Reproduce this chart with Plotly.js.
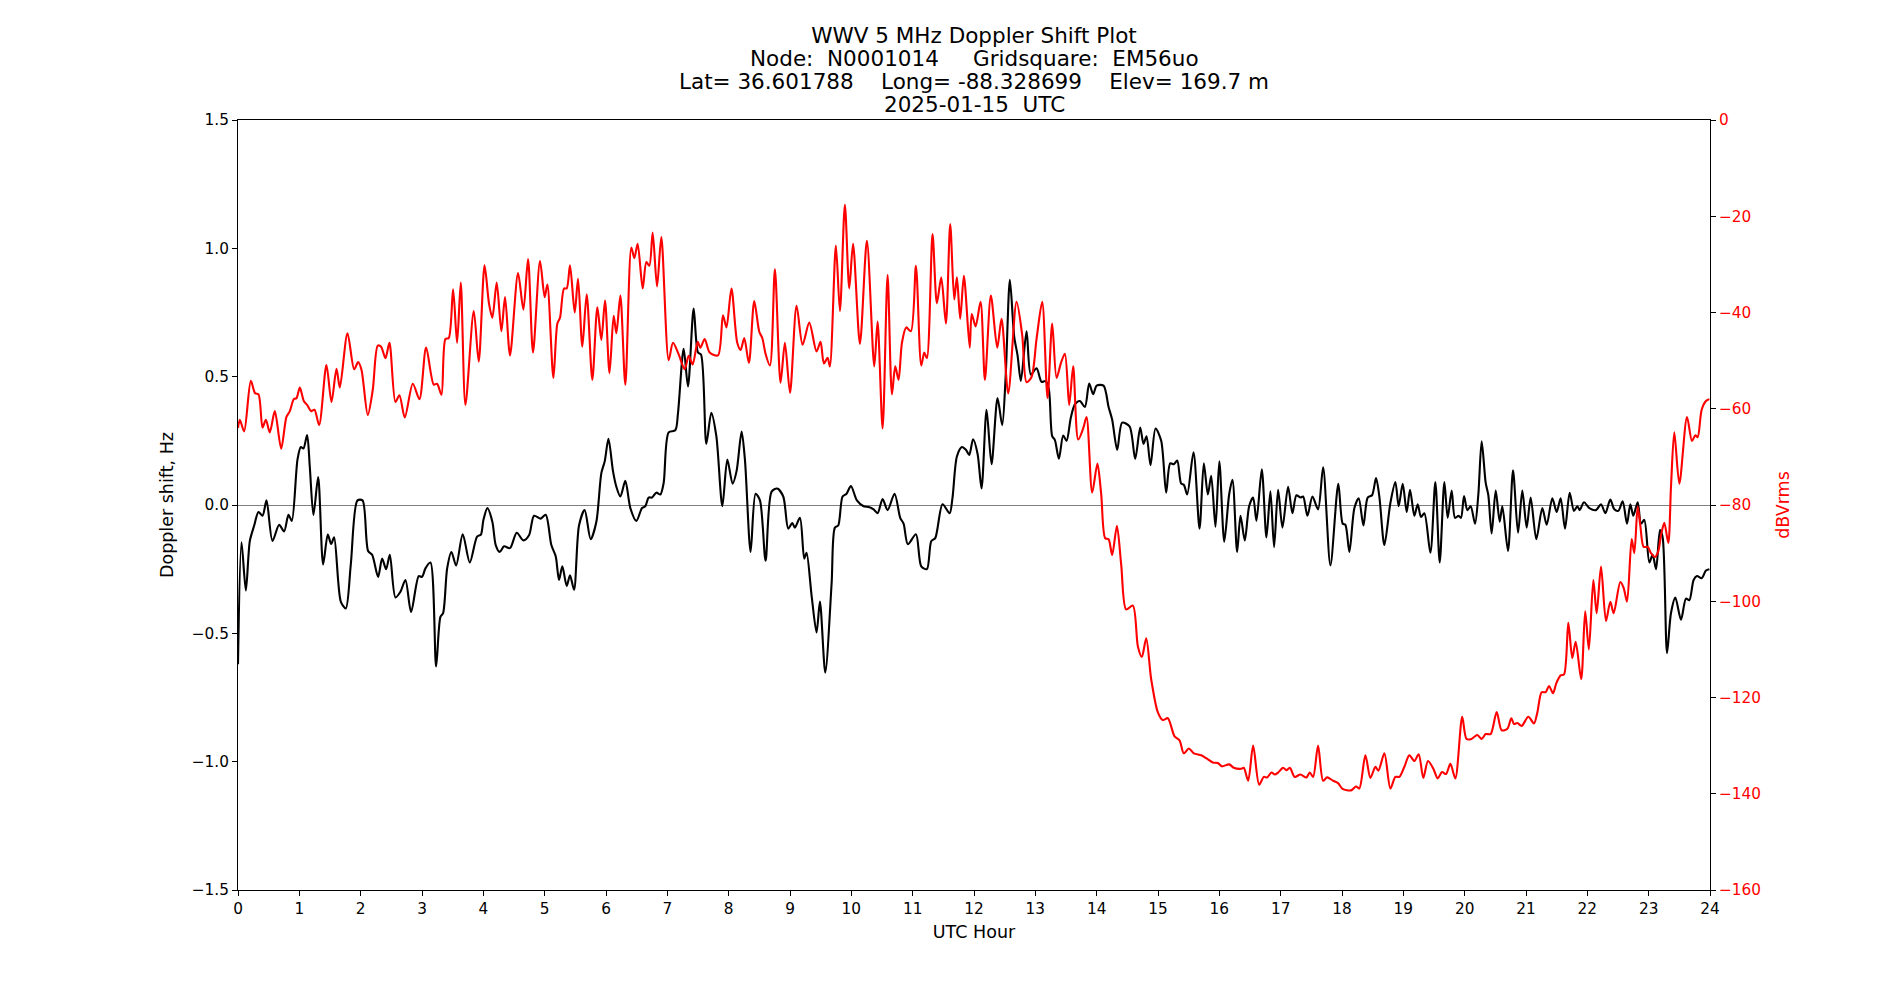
<!DOCTYPE html>
<html><head><meta charset="utf-8">
<script src="https://cdn.plot.ly/plotly-3.0.1.min.js"></script>
<style>html,body{margin:0;padding:0;background:#fff}#chart{width:1900px;height:1000px}</style>
</head><body><div id="chart"></div>
<script>
// Doppler shift (Hz) vs UTC hour — black trace
const dopplerHours = [0.0,0.057,0.128,0.193,0.264,0.334,0.40,0.465,0.562,0.671,0.752,0.823,0.877,0.97,1.024,1.067,1.127,1.171,1.23,1.307,1.388,1.464,1.519,1.567,1.676,1.757,1.839,1.948,2.03,2.121,2.187,2.284,2.35,2.415,2.475,2.567,2.648,2.73,2.822,2.947,3.0,3.056,3.137,3.23,3.3,3.344,3.41,3.48,3.556,3.664,3.779,3.898,3.96,4.0,4.066,4.147,4.202,4.267,4.338,4.435,4.544,4.653,4.745,4.827,4.935,5.017,5.109,5.18,5.234,5.288,5.359,5.413,5.479,5.56,5.652,5.75,5.843,5.924,5.979,6.04,6.114,6.169,6.234,6.315,6.397,6.495,6.587,6.641,6.696,6.75,6.821,6.886,6.94,7.022,7.13,7.174,7.266,7.337,7.429,7.5,7.549,7.636,7.717,7.799,7.897,7.978,8.064,8.129,8.211,8.265,8.358,8.439,8.51,8.602,8.7,8.792,8.89,8.971,9.037,9.08,9.162,9.232,9.27,9.352,9.433,9.488,9.575,9.678,9.732,9.786,9.857,9.922,9.993,10.091,10.2,10.281,10.363,10.428,10.51,10.591,10.705,10.797,10.852,10.922,11.053,11.14,11.232,11.303,11.368,11.487,11.602,11.65,11.721,11.803,11.868,11.922,11.985,12.058,12.123,12.205,12.286,12.384,12.46,12.515,12.585,12.656,12.71,12.764,12.857,12.927,13.02,13.101,13.166,13.221,13.275,13.319,13.384,13.454,13.509,13.579,13.645,13.726,13.808,13.878,13.943,14.0,14.112,14.194,14.253,14.335,14.416,14.536,14.628,14.71,14.764,14.813,14.878,14.96,15.052,15.133,15.199,15.258,15.313,15.378,15.421,15.476,15.579,15.677,15.747,15.813,15.867,15.937,16.0,16.08,16.16,16.214,16.29,16.345,16.415,16.486,16.551,16.605,16.692,16.768,16.833,16.893,16.958,17.029,17.121,17.192,17.257,17.322,17.366,17.436,17.518,17.61,17.692,17.811,17.94,18.012,18.055,18.12,18.202,18.272,18.349,18.419,18.49,18.555,18.609,18.691,18.789,18.87,18.924,18.99,19.055,19.109,19.18,19.234,19.288,19.343,19.441,19.522,19.593,19.669,19.723,19.788,19.843,19.902,19.94,19.99,20.044,20.098,20.169,20.223,20.277,20.343,20.386,20.44,20.506,20.571,20.614,20.707,20.788,20.87,20.94,21.011,21.076,21.168,21.266,21.337,21.429,21.5,21.565,21.636,21.712,21.782,21.837,21.875,21.945,22.033,22.141,22.223,22.294,22.375,22.44,22.505,22.576,22.647,22.701,22.75,22.821,22.875,22.929,23.011,23.065,23.12,23.185,23.228,23.299,23.364,23.435,23.527,23.608,23.663,23.733,23.788,23.864,23.934,23.99];
const dopplerHz = [-0.62,-0.145,-0.333,-0.14,-0.08,-0.027,-0.042,0.018,-0.14,-0.077,-0.103,-0.038,-0.062,0.177,0.226,0.22,0.273,0.147,-0.039,0.109,-0.232,-0.115,-0.152,-0.126,-0.376,-0.403,-0.232,0.018,0.018,-0.179,-0.194,-0.28,-0.209,-0.25,-0.194,-0.36,-0.338,-0.292,-0.417,-0.277,-0.28,-0.247,-0.224,-0.629,-0.436,-0.421,-0.247,-0.183,-0.236,-0.114,-0.224,-0.123,-0.115,-0.06,-0.012,-0.065,-0.156,-0.183,-0.161,-0.168,-0.108,-0.138,-0.118,-0.042,-0.053,-0.038,-0.156,-0.2,-0.292,-0.239,-0.315,-0.274,-0.33,-0.08,-0.02,-0.133,-0.065,0.124,0.17,0.258,0.132,0.071,0.033,0.094,-0.012,-0.062,-0.012,-0.005,0.029,0.029,0.048,0.041,0.086,0.283,0.291,0.359,0.609,0.462,0.765,0.594,0.586,0.238,0.359,0.268,-0.005,0.177,0.083,0.132,0.286,0.177,-0.183,0.044,0.018,-0.217,0.052,0.064,0.033,-0.092,-0.07,-0.088,-0.05,-0.209,-0.186,-0.353,-0.497,-0.376,-0.653,-0.308,-0.088,-0.08,0.033,0.044,0.074,0.018,-0.005,-0.008,-0.017,-0.032,0.023,-0.02,0.044,-0.05,-0.073,-0.153,-0.114,-0.239,-0.25,-0.141,-0.129,0.003,-0.032,0.029,0.189,0.226,0.215,0.195,0.256,0.2,0.064,0.371,0.159,0.417,0.311,0.495,0.877,0.655,0.583,0.483,0.677,0.508,0.533,0.48,0.483,0.45,0.268,0.253,0.18,0.271,0.25,0.341,0.392,0.405,0.382,0.473,0.432,0.465,0.465,0.382,0.332,0.215,0.321,0.306,0.18,0.302,0.238,0.268,0.155,0.298,0.25,0.048,0.162,0.159,0.173,0.083,0.079,0.041,0.205,-0.092,0.162,0.041,0.114,-0.085,0.17,-0.143,0.041,0.098,-0.183,-0.042,-0.138,-0.005,0.029,-0.062,0.139,-0.126,0.053,-0.164,0.059,-0.088,0.071,-0.032,0.038,0.029,0.033,-0.042,0.033,-0.017,0.147,-0.235,0.083,-0.073,-0.077,-0.183,-0.012,0.026,-0.08,0.029,0.038,0.105,0.033,-0.156,0.008,0.089,-0.005,0.083,-0.027,0.059,-0.042,0.003,-0.047,-0.032,-0.186,0.089,-0.224,0.089,-0.05,0.056,-0.05,-0.042,-0.05,0.035,-0.02,-0.005,-0.073,0.041,0.248,0.086,0.038,-0.111,0.056,-0.065,-0.005,-0.179,0.135,-0.108,0.056,-0.088,0.029,-0.133,-0.012,-0.077,0.026,-0.027,0.026,-0.092,0.048,-0.023,-0.005,-0.02,0.011,-0.012,-0.02,0.003,-0.032,0.021,-0.017,-0.023,0.014,-0.073,0.003,-0.042,0.011,-0.073,-0.058,-0.224,-0.194,-0.25,-0.098,-0.126,-0.577,-0.421,-0.361,-0.447,-0.365,-0.371,-0.292,-0.277,-0.285,-0.255,-0.25];

// Received level (dBVrms) vs UTC hour — red trace
const powerHours = [0.0,0.03,0.1,0.209,0.28,0.334,0.40,0.454,0.519,0.6,0.704,0.79,0.845,0.91,0.954,1.008,1.073,1.127,1.193,1.247,1.323,1.442,1.524,1.606,1.66,1.785,1.894,1.959,2.013,2.116,2.198,2.279,2.333,2.404,2.469,2.567,2.632,2.719,2.85,2.958,3.067,3.192,3.246,3.317,3.382,3.436,3.507,3.572,3.632,3.708,3.844,3.925,4.02,4.093,4.147,4.218,4.294,4.354,4.435,4.566,4.653,4.729,4.81,4.924,5.0,5.044,5.142,5.207,5.25,5.316,5.359,5.413,5.49,5.544,5.614,5.685,5.777,5.859,5.924,5.984,6.057,6.125,6.169,6.234,6.315,6.413,6.462,6.516,6.598,6.658,6.707,6.761,6.832,6.902,7.022,7.092,7.185,7.283,7.348,7.413,7.495,7.538,7.609,7.69,7.826,7.907,7.964,8.045,8.14,8.195,8.254,8.33,8.417,8.499,8.548,8.602,8.673,8.754,8.846,8.917,9.0,9.107,9.205,9.314,9.433,9.498,9.553,9.613,9.65,9.748,9.814,9.895,9.966,10.028,10.14,10.254,10.374,10.428,10.51,10.591,10.662,10.716,10.77,10.825,10.895,10.971,11.053,11.14,11.189,11.232,11.324,11.395,11.466,11.542,11.612,11.678,11.721,11.775,11.835,11.93,11.963,12.026,12.107,12.178,12.275,12.379,12.449,12.558,12.694,12.786,12.857,12.938,13.02,13.112,13.199,13.275,13.346,13.417,13.482,13.552,13.617,13.699,13.78,13.835,13.927,14.012,14.074,14.139,14.194,14.253,14.33,14.4,14.481,14.59,14.672,14.737,14.808,14.889,14.998,15.079,15.161,15.27,15.351,15.421,15.503,15.584,15.704,15.785,15.894,15.975,16.041,16.16,16.236,16.361,16.399,16.47,16.551,16.649,16.725,16.779,16.85,16.904,16.958,17.04,17.094,17.149,17.23,17.322,17.42,17.475,17.529,17.61,17.692,17.757,17.855,17.936,18.01,18.148,18.229,18.283,18.381,18.463,18.544,18.593,18.691,18.789,18.87,18.935,19.017,19.098,19.18,19.25,19.326,19.402,19.489,19.56,19.631,19.696,19.767,19.848,19.96,20.03,20.109,20.207,20.277,20.343,20.424,20.522,20.603,20.696,20.761,20.804,20.859,20.929,21.038,21.13,21.185,21.255,21.32,21.375,21.44,21.495,21.565,21.62,21.69,21.755,21.81,21.9,21.965,22.025,22.098,22.152,22.223,22.304,22.375,22.429,22.538,22.592,22.647,22.723,22.766,22.821,22.864,22.918,22.984,23.038,23.103,23.157,23.201,23.255,23.32,23.364,23.418,23.5,23.625,23.706,23.761,23.799,23.864,23.934,23.99];
const powerDb = [-64,-62.3,-64.7,-54.2,-56.8,-57,-63.9,-62.3,-64.9,-60.5,-68.3,-61.7,-60.5,-58,-57.8,-55.6,-58.4,-59.2,-60.5,-60.2,-63.4,-50.9,-58.6,-51.7,-55.6,-44.3,-51.8,-50.3,-51.9,-61.3,-56,-46.9,-47.1,-49.5,-46.3,-58.6,-57.2,-61.8,-54.8,-58,-47.3,-55,-54.8,-57.1,-45.5,-45.3,-35.2,-46.3,-33.8,-59.2,-39.7,-50.2,-30.2,-38.2,-41.1,-33.8,-43.9,-36.8,-48.9,-31.8,-39.4,-28.9,-48.3,-29.3,-36.8,-34.2,-53.6,-42.3,-41.1,-35,-35,-30.2,-40,-33,-47.1,-36.2,-54,-38.9,-45.7,-37.5,-52.6,-40.7,-44.3,-36.5,-55,-26.5,-28.7,-25.7,-35,-29.5,-30.3,-23.4,-34.6,-24.3,-49.9,-46.3,-48.7,-51.8,-49,-50.8,-46.1,-47.3,-45.5,-48.3,-48.9,-40.6,-43.1,-35,-46.3,-47.8,-45.3,-50.5,-37.6,-44,-45.3,-48.6,-51,-31,-54.6,-46.3,-56.7,-38.6,-46.7,-42.1,-48.1,-46.1,-50.6,-49.4,-51.2,-26.1,-39.7,-17.6,-35,-25.7,-46.5,-25.1,-51.2,-41.9,-64.1,-32.2,-57,-51.2,-54,-46.3,-43.1,-43.9,-30.3,-51,-48.3,-49.5,-23.7,-38.1,-32.7,-42.3,-21.6,-37.3,-32.7,-41.3,-32.4,-47.3,-40.3,-42.9,-37.8,-54,-36.5,-47.3,-41.3,-56.8,-37.8,-44.7,-54.5,-53.4,-45.5,-37.8,-57.8,-42.3,-53.6,-50.5,-48.6,-59.2,-51.2,-66.4,-64.1,-61.7,-77.4,-71.4,-77.8,-86.9,-87.1,-90.4,-84.3,-92.4,-101.7,-100.9,-109.4,-111.6,-107.7,-116.2,-123.1,-124.7,-124.3,-128.1,-128.9,-131.6,-130.6,-131.6,-132,-132.6,-133.5,-133.6,-134.3,-133.9,-134.6,-134.8,-134.6,-137.3,-130,-138.1,-136.5,-136.6,-135.6,-136,-135.6,-134.6,-135.1,-134.6,-136.5,-136,-136.6,-135.6,-136.5,-130,-137.3,-136.6,-137.3,-137.8,-139,-139.3,-138.5,-138.9,-132,-136.7,-134.4,-135.2,-131.6,-138.9,-136.5,-136.5,-134.4,-132,-133.2,-131.8,-136.7,-133.2,-134.8,-136.8,-135.5,-135.9,-133.8,-136.8,-124,-128.6,-128.6,-127.8,-128.6,-127.6,-127.6,-123,-126.8,-126.5,-124.3,-125.5,-125.3,-125.9,-124,-125.4,-123.1,-118.9,-118.9,-117.6,-119.1,-117,-115.4,-115.2,-104.5,-111.8,-108.4,-116.2,-102.1,-110,-95.6,-102.5,-92.8,-104.1,-100.1,-102.5,-96,-97.2,-100.1,-87.1,-90,-80.3,-84.3,-88.7,-88.7,-90,-90.8,-89.6,-86.3,-83.7,-87.9,-76.2,-64.9,-75.6,-61.7,-66.7,-65.5,-65.9,-60.2,-58.4,-58];

const titleLines = [
  'WWV 5 MHz Doppler Shift Plot',
  'Node:  N0001014     Gridsquare:  EM56uo',
  'Lat= 36.601788    Long= -88.328699    Elev= 169.7 m',
  '2025-01-15  UTC'
];
const xTitle = 'UTC Hour';
const yTitle = 'Doppler shift, Hz';
const y2Title = 'dBVrms';

const FONT = 'DejaVu Sans, Liberation Sans, sans-serif';
const keepSpaces = s => s.replace(/ /g, '\u00A0');

const W = 1900, H = 1000;
const M = {l: 238, r: 190, t: 120, b: 110};
const plotH = H - M.t - M.b;
const TITLE_SIZE = 21.5;
const LINE_CENTERS = [35, 58, 81, 104];   // pixel centres of the four title lines

const traces = [
  {
    x: dopplerHours, y: dopplerHz, type: 'scatter', mode: 'lines',
    line: {color: '#000000', width: 2.1, shape: 'spline', smoothing: 0.8},
    yaxis: 'y', name: 'Doppler', hoverinfo: 'x+y'
  },
  {
    x: powerHours, y: powerDb, type: 'scatter', mode: 'lines',
    line: {color: '#ff0000', width: 2.1, shape: 'spline', smoothing: 0.8},
    yaxis: 'y2', name: 'Power', hoverinfo: 'x+y'
  }
];

// first line as the real title, following lines as centred text rows (matplotlib-like tight spacing)
const extraTitleRows = titleLines.slice(1).map((t, i) => ({
  text: keepSpaces(t), showarrow: false,
  xref: 'paper', x: 0.5, xanchor: 'center',
  yref: 'paper', y: 1 + (M.t - LINE_CENTERS[i + 1]) / plotH, yanchor: 'middle',
  font: {family: FONT, size: TITLE_SIZE, color: '#000000'}
}));

const layout = {
  width: W, height: H,
  paper_bgcolor: '#ffffff', plot_bgcolor: '#ffffff',
  showlegend: false,
  font: {family: FONT, size: 15.3, color: '#000000'},
  margin: {l: M.l, r: M.r, t: M.t, b: M.b, pad: 0},
  title: {
    text: keepSpaces(titleLines[0]),
    font: {family: FONT, size: TITLE_SIZE, color: '#000000'},
    x: 0.5, xref: 'paper', xanchor: 'center',
    y: 1 - LINE_CENTERS[0] / H, yref: 'container', yanchor: 'middle'
  },
  annotations: extraTitleRows,
  xaxis: {
    range: [0, 24], tickmode: 'linear', tick0: 0, dtick: 1,
    ticks: 'outside', ticklen: 5, tickwidth: 1, tickcolor: '#000',
    showline: true, linecolor: '#000', linewidth: 1, mirror: true,
    showgrid: false, zeroline: false,
    tickfont: {size: 15.3},
    title: {text: xTitle, font: {size: 17.5}, standoff: 8}
  },
  yaxis: {
    range: [-1.5, 1.5], tickmode: 'linear', tick0: -1.5, dtick: 0.5, tickformat: '.1f',
    ticks: 'outside', ticklen: 5, tickwidth: 1, tickcolor: '#000',
    showline: true, linecolor: '#000', linewidth: 1, mirror: true,
    showgrid: false,
    zeroline: true, zerolinecolor: '#808080', zerolinewidth: 1,
    tickfont: {size: 15.3},
    title: {text: yTitle, font: {size: 17.5}, standoff: 13}
  },
  yaxis2: {
    overlaying: 'y', side: 'right',
    range: [-160, 0], tickmode: 'linear', tick0: -160, dtick: 20,
    ticks: 'outside', ticklen: 5, tickwidth: 1, tickcolor: '#000',
    showline: false, showgrid: false, zeroline: false,
    tickfont: {size: 15.3, color: '#ff0000'},
    title: {text: y2Title, font: {size: 17.5, color: '#ff0000'}, standoff: 16}
  }
};

Plotly.newPlot('chart', traces, layout, {displayModeBar: false, staticPlot: true});
</script>
</body></html>
